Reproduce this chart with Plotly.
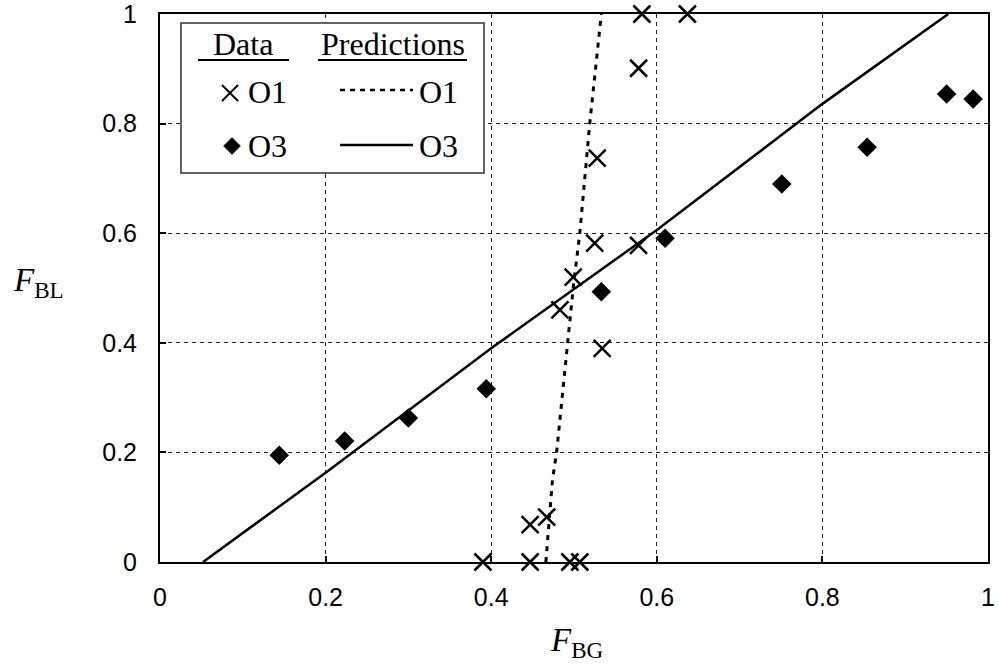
import plotly.graph_objects as go

# Measured data: O1 (crosses) and O3 (diamonds)
o1_fbg = [0.390, 0.447, 0.495, 0.507, 0.447, 0.467, 0.483, 0.499, 0.525, 0.578, 0.534, 0.528, 0.578, 0.582, 0.637]
o1_fbl = [0.000, 0.000, 0.000, 0.000, 0.068, 0.082, 0.460, 0.520, 0.582, 0.578, 0.390, 0.737, 0.901, 1.000, 1.000]

o3_fbg = [0.144, 0.223, 0.300, 0.394, 0.533, 0.610, 0.751, 0.854, 0.950, 0.982]
o3_fbl = [0.195, 0.221, 0.263, 0.316, 0.493, 0.591, 0.690, 0.757, 0.854, 0.845]

# Model predictions
pred_o1_fbg = [0.466, 0.474, 0.479, 0.492, 0.499, 0.507, 0.519, 0.533]
pred_o1_fbl = [0.000, 0.150, 0.200, 0.400, 0.500, 0.600, 0.800, 1.000]

pred_o3_fbg = [0.052, 0.200, 0.400, 0.600, 0.800, 0.952]
pred_o3_fbl = [0.000, 0.163, 0.390, 0.606, 0.836, 1.000]

tick_vals = [0, 0.2, 0.4, 0.6, 0.8, 1]
tick_text = ["0", "0.2", "0.4", "0.6", "0.8", "1"]

W, H = 998, 666
L, R, T, B = 160, 988, 14, 562

SERIF = "Times New Roman, Liberation Serif, serif"
SANS = "Arial, Liberation Sans, sans-serif"


def px(x):
    return (x - L) / (R - L)


def py(y):
    return (B - y) / (B - T)


fig = go.Figure()

fig.add_trace(go.Scatter(
    x=pred_o1_fbg, y=pred_o1_fbl, mode="lines",
    line=dict(color="black", width=3, dash="5px,6px"),
    showlegend=False, hoverinfo="skip", cliponaxis=False))
fig.add_trace(go.Scatter(
    x=pred_o3_fbg, y=pred_o3_fbl, mode="lines",
    line=dict(color="black", width=2.5),
    showlegend=False, hoverinfo="skip", cliponaxis=False))
fig.add_trace(go.Scatter(
    x=o1_fbg, y=o1_fbl, mode="markers",
    marker=dict(symbol="x-thin", size=17, color="black",
                line=dict(color="black", width=2.5)),
    showlegend=False, cliponaxis=False))
fig.add_trace(go.Scatter(
    x=o3_fbg, y=o3_fbl, mode="markers",
    marker=dict(symbol="diamond", size=15, color="black",
                line=dict(width=0)),
    showlegend=False, cliponaxis=False))

axis_common = dict(
    range=[0, 1], tickvals=tick_vals, ticktext=tick_text,
    showgrid=True, gridcolor="#222", gridwidth=1, griddash="4px,4px",
    showline=True, linecolor="black", linewidth=2, mirror=True,
    ticks="inside", ticklen=6, tickwidth=1.5, tickcolor="black",
    tickfont=dict(family=SANS, size=25, color="black"),
    ticklabeloverflow="allow", automargin=False,
    zeroline=False, fixedrange=True,
)
fig.update_xaxes(**axis_common, ticklabelstandoff=12)
fig.update_yaxes(**axis_common, ticklabelstandoff=16)

shapes = []
annotations = []

# Legend box
shapes.append(dict(type="rect", xref="paper", yref="paper",
                   x0=px(181), x1=px(484), y0=py(173), y1=py(23),
                   line=dict(color="#333", width=1.5), fillcolor="white", layer="above"))

# Headers with underlines
annotations.append(dict(text="Data", x=px(243), y=py(44), xref="paper", yref="paper",
                        showarrow=False, xanchor="center", yanchor="middle",
                        font=dict(family=SERIF, size=32, color="black")))
annotations.append(dict(text="Predictions", x=px(393), y=py(44), xref="paper", yref="paper",
                        showarrow=False, xanchor="center", yanchor="middle",
                        font=dict(family=SERIF, size=32, color="black")))
shapes.append(dict(type="line", xref="paper", yref="paper",
                   x0=px(198), x1=px(289), y0=py(60), y1=py(60),
                   line=dict(color="black", width=2), layer="above"))
shapes.append(dict(type="line", xref="paper", yref="paper",
                   x0=px(318), x1=px(467), y0=py(60), y1=py(60),
                   line=dict(color="black", width=2), layer="above"))

# Legend key: cross for O1 data
cx, cy, r = 230, 93, 8
shapes.append(dict(type="path", xref="paper", yref="paper",
                   path=(f"M{px(cx-r)},{py(cy-r)} L{px(cx+r)},{py(cy+r)} "
                         f"M{px(cx-r)},{py(cy+r)} L{px(cx+r)},{py(cy-r)}"),
                   line=dict(color="black", width=2), layer="above"))
# Legend key: diamond for O3 data
dx, dy, d = 232, 146, 8.5
shapes.append(dict(type="path", xref="paper", yref="paper",
                   path=(f"M{px(dx)},{py(dy-d)} L{px(dx+d)},{py(dy)} "
                         f"L{px(dx)},{py(dy+d)} L{px(dx-d)},{py(dy)} Z"),
                   fillcolor="black", line=dict(color="black", width=0.5), layer="above"))
# Legend key: prediction lines
shapes.append(dict(type="line", xref="paper", yref="paper",
                   x0=px(340), x1=px(413), y0=py(90), y1=py(90),
                   line=dict(color="black", width=2.5, dash="5px,5px"), layer="above"))
shapes.append(dict(type="line", xref="paper", yref="paper",
                   x0=px(340), x1=px(413), y0=py(145), y1=py(145),
                   line=dict(color="black", width=2.5), layer="above"))

for label, xc, yc in [("O1", 267, 92), ("O3", 267, 146), ("O1", 438, 92), ("O3", 438, 146)]:
    annotations.append(dict(text=label, x=px(xc), y=py(yc), xref="paper", yref="paper",
                            showarrow=False, xanchor="center", yanchor="middle",
                            font=dict(family=SERIF, size=32, color="black")))

# Axis titles
annotations.append(dict(text="<i>F</i><sub>BG</sub>", x=px(576), y=py(642),
                        xref="paper", yref="paper", showarrow=False,
                        xanchor="center", yanchor="middle",
                        font=dict(family=SERIF, size=33, color="black")))
annotations.append(dict(text="<i>F</i><sub>BL</sub>", x=px(38), y=py(282),
                        xref="paper", yref="paper", showarrow=False,
                        xanchor="center", yanchor="middle",
                        font=dict(family=SERIF, size=33, color="black")))

fig.update_layout(
    width=W, height=H,
    margin=dict(l=L, r=W - R, t=T, b=H - B, autoexpand=False),
    paper_bgcolor="white", plot_bgcolor="white",
    shapes=shapes, annotations=annotations,
    showlegend=False,
)

fig.write_html("out.html")
